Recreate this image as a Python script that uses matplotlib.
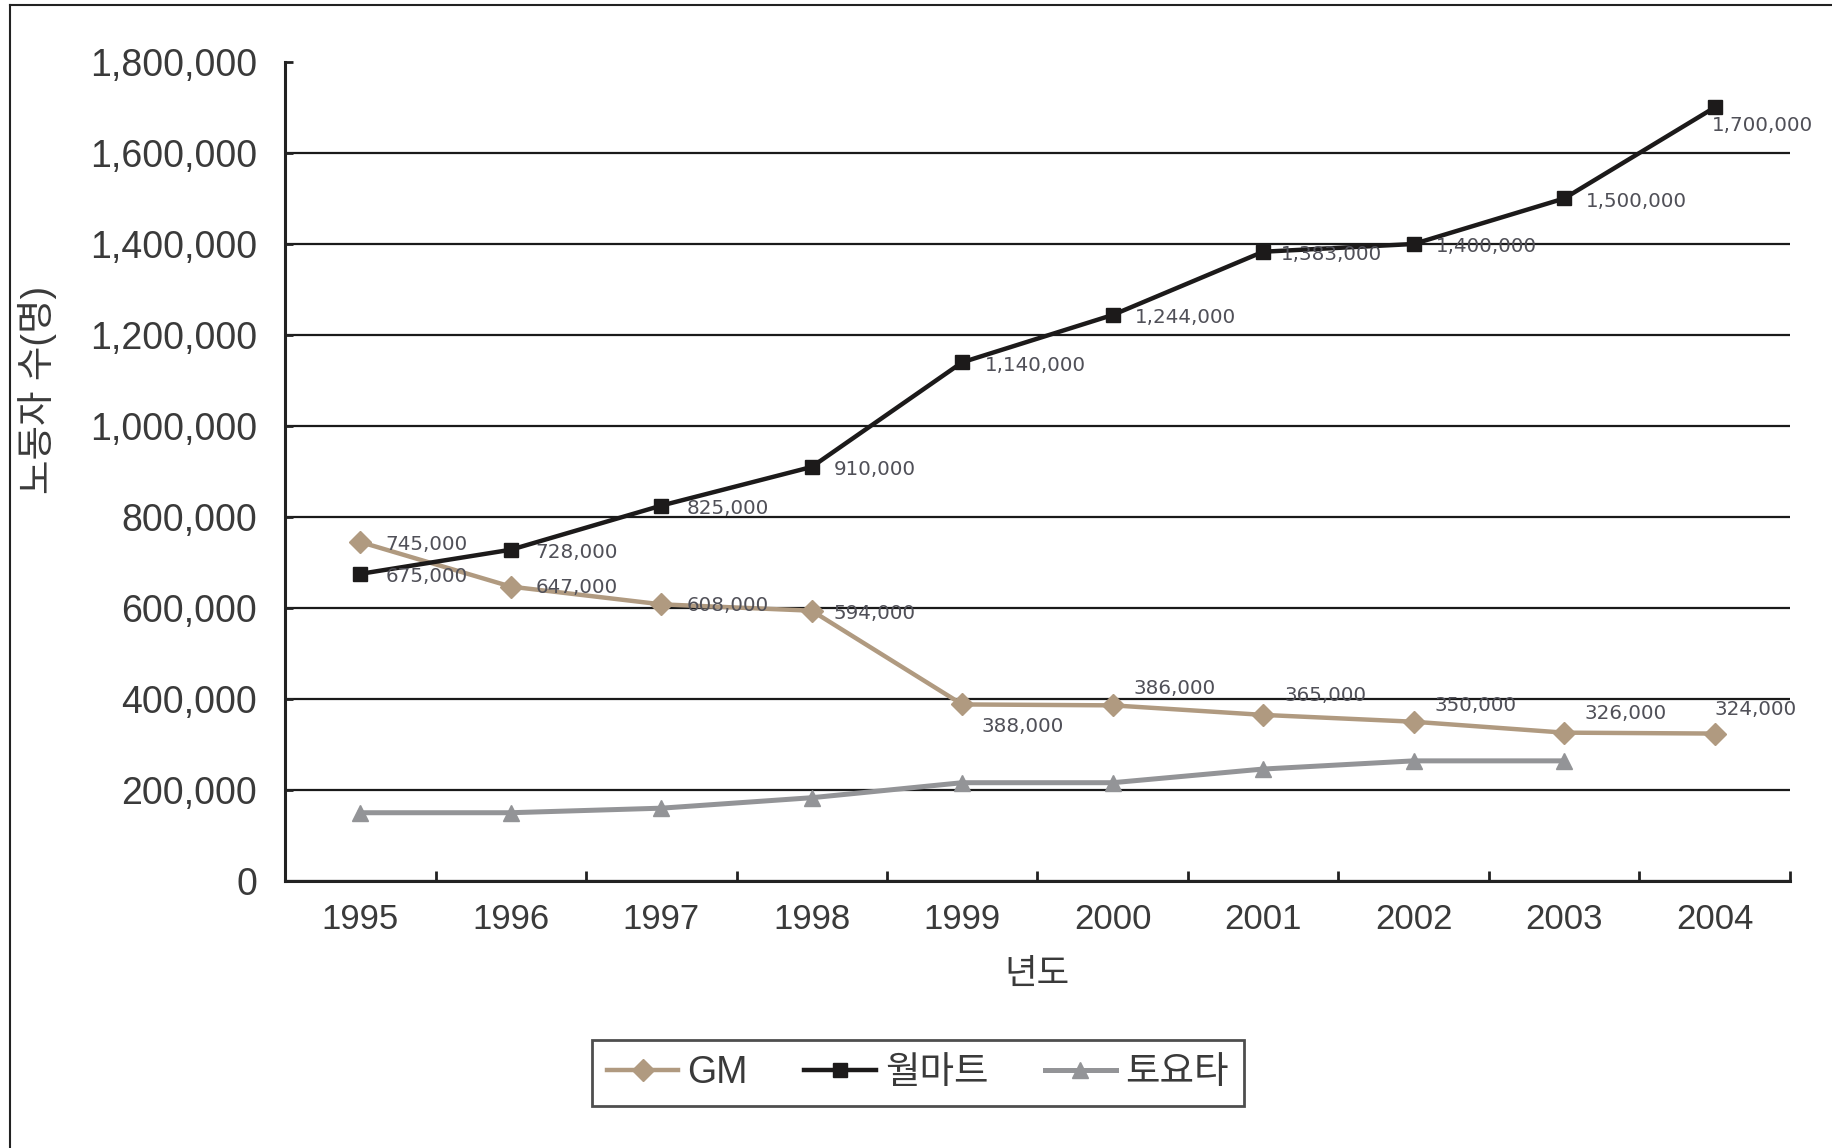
import numpy as np
import matplotlib
matplotlib.use("Agg")
import matplotlib.pyplot as plt
from matplotlib.lines import Line2D

plt.rcParams['font.family'] = ['Liberation Sans', 'Noto Sans CJK KR', 'DejaVu Sans']

# data
years = ['1995', '1996', '1997', '1998', '1999', '2000', '2001', '2002', '2003', '2004']
gm = [745000, 647000, 608000, 594000, 388000, 386000, 365000, 350000, 326000, 324000]
walmart = [675000, 728000, 825000, 910000, 1140000, 1244000, 1383000, 1400000, 1500000, 1700000]
toyota = [150000, 150000, 160000, 183000, 216000, 216000, 246000, 264000, 264000, np.nan]
series_names = ['GM', '월마트', '토요타']
y_ticks = [0, 200000, 400000, 600000, 800000, 1000000, 1200000, 1400000, 1600000, 1800000]

# label placement (offset in points from the marker)
gm_offsets = [(18, -2), (18, -1), (18, -1), (16, -2), (14, -16), (15, 12),
              (15, 14), (15, 12), (15, 14), (0, 17)]
wm_offsets = [(18, -2), (18, -2), (18, -2), (16, -2), (16, -2), (16, -2),
              (13, -2), (16, -2), (16, -2), (-2, -13)]

gm_col = '#b09a80'
wm_col = '#1c1a1a'
ty_col = '#939497'
txt_col = '#3a3a3a'
lab_col = '#505058'

fig = plt.figure(figsize=(18.32, 11.48), dpi=100)
ax = fig.add_axes([0.1556, 0.2326, 0.977 - 0.1556, 0.946 - 0.2326])

x = np.arange(len(years))
ax.plot(x, gm, color=gm_col, lw=3.2, marker='D', ms=11, label=series_names[0], zorder=4)
ax.plot(x, walmart, color=wm_col, lw=3.2, marker='s', ms=10, label=series_names[1], zorder=5)
ax.plot(x, toyota, color=ty_col, lw=3.6, marker='^', ms=12, label=series_names[2], zorder=3)

for i, v in enumerate(gm):
    ax.annotate(f'{v:,}', (x[i], v), xytext=gm_offsets[i], textcoords='offset points',
                ha='left', va='center', fontsize=14.3, family='DejaVu Sans',
                color=lab_col, zorder=6)
for i, v in enumerate(walmart):
    ax.annotate(f'{v:,}', (x[i], v), xytext=wm_offsets[i], textcoords='offset points',
                ha='left', va='center', fontsize=14.3, family='DejaVu Sans',
                color=lab_col, zorder=6)

ax.set_xlim(-0.5, len(years) - 0.5)
ax.set_ylim(0, 1800000)
ax.set_yticks(y_ticks)
ax.set_yticklabels([f'{t:,}' for t in y_ticks])
ax.set_xticks(x)
ax.set_xticklabels(years)
ax.set_xticks(np.arange(-0.5, len(years)), minor=True)

ax.tick_params(axis='y', direction='in', length=6, width=2, colors='#222222',
               labelsize=27, labelcolor=txt_col, pad=20)
ax.tick_params(axis='x', which='major', length=0, labelsize=25, labelcolor=txt_col, pad=16)
ax.tick_params(axis='x', which='minor', direction='in', length=7, width=2, colors='#222222')

ax.yaxis.grid(True, color='#1a1a1a', lw=1.6)
ax.get_ygridlines()[-1].set_visible(False)
ax.set_axisbelow(True)

for s in ['top', 'right']:
    ax.spines[s].set_visible(False)
for s in ['left', 'bottom']:
    ax.spines[s].set_linewidth(2.2)
    ax.spines[s].set_color('#222222')

fig.text(0.0205, 0.66, '노동자 수(명)', rotation=90, ha='center', va='center',
         fontsize=27, color=txt_col)
fig.text(0.566, 0.151, '년도', ha='center', va='center', fontsize=25.5, color=txt_col)

leg = ax.legend(loc='center', bbox_to_anchor=(0.501, 0.0653), bbox_transform=fig.transFigure,
                ncol=3, fontsize=27, frameon=True, fancybox=False, handlelength=1.9,
                handletextpad=0.25, columnspacing=1.5, borderpad=0.4)
leg.get_frame().set_edgecolor('#222222')
leg.get_frame().set_linewidth(2)
for t in leg.get_texts():
    t.set_color(txt_col)

# outer frame (left and top edges visible)
fig.add_artist(Line2D([10 / 1832, 10 / 1832], [0, 1 - 5 / 1148], transform=fig.transFigure,
                      color='#222222', lw=1.5))
fig.add_artist(Line2D([10 / 1832, 1], [1 - 5 / 1148, 1 - 5 / 1148], transform=fig.transFigure,
                      color='#222222', lw=1.5))

fig.savefig('out.png', dpi=100)
